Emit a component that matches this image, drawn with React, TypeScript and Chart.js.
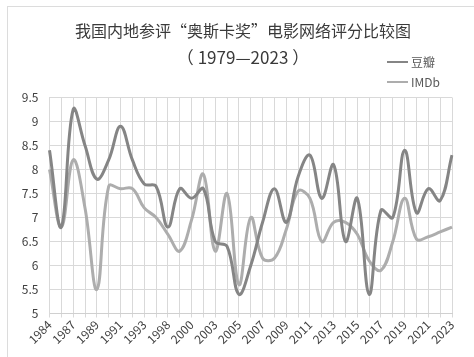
import React, { useEffect, useRef } from 'react';
import { Chart, registerables } from 'chart.js';

Chart.register(...registerables);

const years = [
  '1984', '1986', '1987', '1988', '1989', '1990', '1991', '1992', '1993', '1995',
  '1998', '1999', '2000', '2002', '2003', '2004', '2005', '2006', '2007', '2008',
  '2009', '2010', '2011', '2012', '2013', '2014', '2015', '2016', '2017', '2018',
  '2019', '2020', '2021', '2022', '2023',
];

const doubanScores = [
  8.4, 6.8, 9.25, 8.5, 7.8, 8.2, 8.9, 8.2, 7.7, 7.65,
  6.8, 7.6, 7.4, 7.6, 6.5, 6.4, 5.4, 6.0, 6.9, 7.6,
  6.9, 7.85, 8.3, 7.4, 8.1, 6.5, 7.4, 5.4, 7.15, 7.0,
  8.4, 7.1, 7.6, 7.35, 8.3,
];

const imdbScores = [
  8.0, 6.8, 8.2, 7.2, 5.5, 7.65, 7.6, 7.6, 7.2, 7.0,
  6.65, 6.3, 6.95, 7.9, 6.3, 7.5, 5.6, 7.0, 6.15, 6.15,
  6.75, 7.55, 7.4, 6.5, 6.9, 6.9, 6.65, 6.1, 5.9, 6.5,
  7.4, 6.55, 6.6, 6.7, 6.8,
];

const seriesNames = ['豆瓣', 'IMDb'];
const titleLines = ['我国内地参评“奥斯卡奖”电影网络评分比较图', '（ 1979—2023 ）'];
const yMin = 5;
const yMax = 9.5;
const yStep = 0.5;

const FONT = '"Noto Sans CJK SC", "Noto Sans", sans-serif';

const overlayPlugin = {
  id: 'overlay',
  afterDraw(chart: any) {
    const ctx = chart.ctx;
    ctx.save();
    ctx.fillStyle = '#3a3a3a';
    ctx.font = `16px ${FONT}`;
    ctx.textAlign = 'center';
    ctx.textBaseline = 'middle';
    ctx.fillText(titleLines[0], 243, 31);
    ctx.font = `17px ${FONT}`;
    ctx.fillText(titleLines[1], 243, 58);
    chart.data.datasets.forEach((ds: any, i: number) => {
      const y = 62 + i * 20;
      ctx.strokeStyle = ds.borderColor;
      ctx.lineWidth = 2;
      ctx.beginPath();
      ctx.moveTo(387, y);
      ctx.lineTo(408, y);
      ctx.stroke();
      ctx.fillStyle = '#595959';
      ctx.font = `12px ${FONT}`;
      ctx.textAlign = 'left';
      ctx.fillText(ds.label, 411, y);
    });
    ctx.restore();
  },
};

export default function App() {
  const canvasRef = useRef<HTMLCanvasElement | null>(null);

  useEffect(() => {
    if (!canvasRef.current) return;
    const chart = new Chart(canvasRef.current, {
      type: 'line',
      data: {
        labels: years,
        datasets: [
          {
            label: seriesNames[0],
            data: doubanScores,
            borderColor: '#858585',
            borderWidth: 3,
            pointRadius: 0,
            tension: 0.4,
            fill: false,
          },
          {
            label: seriesNames[1],
            data: imdbScores,
            borderColor: '#adadad',
            borderWidth: 3,
            pointRadius: 0,
            tension: 0.4,
            fill: false,
          },
        ],
      },
      options: {
        animation: false,
        responsive: false,
        maintainAspectRatio: false,
        layout: { padding: { top: 97.5, right: 22, left: 0, bottom: 0 } },
        plugins: {
          legend: { display: false },
          title: { display: false },
          tooltip: { enabled: false },
        },
        scales: {
          x: {
            offset: false,
            afterFit: (scale: any) => { scale.height = 43.5; },
            grid: { color: '#d9d9d9', tickLength: 4, drawTicks: true },
            border: { color: '#d0d0d0' },
            ticks: {
              autoSkip: false,
              maxRotation: 45,
              minRotation: 45,
              padding: 0,
              color: '#404040',
              font: { family: FONT, size: 12 },
              callback: (_v: any, i: number) => (i % 2 === 0 ? years[i] : ''),
            },
          },
          y: {
            min: yMin,
            max: yMax,
            afterFit: (scale: any) => { scale.width = 49.5; },
            grid: { color: '#d9d9d9', drawTicks: false },
            border: { color: '#d9d9d9' },
            ticks: {
              stepSize: yStep,
              padding: 11,
              color: '#404040',
              font: { family: FONT, size: 12 },
              callback: (v: any) => String(Number(v)),
            },
          },
        },
      },
      plugins: [overlayPlugin],
    });
    return () => chart.destroy();
  }, []);

  return (
    <div style={{ position: 'absolute', left: 0, top: 0, width: 474, height: 357, background: '#fff', overflow: 'hidden' }}>
      <div style={{ position: 'absolute', left: 7, top: 6, width: 480, height: 360, border: '1px solid #dcdcdc' }} />
      <canvas ref={canvasRef} width={474} height={357} style={{ position: 'absolute', left: 0, top: 0 }} />
    </div>
  );
}
